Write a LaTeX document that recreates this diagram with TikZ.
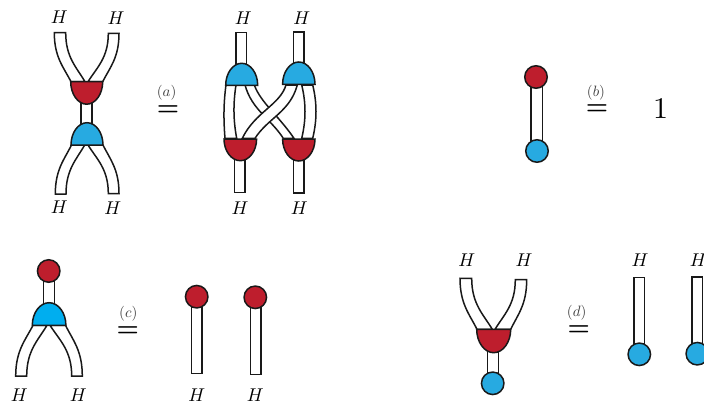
\documentclass[tikz,border=0pt]{standalone}
\usetikzlibrary{backgrounds}
\definecolor{capred}{HTML}{BE1E2D}
\definecolor{capblue}{HTML}{27AAE1}
\definecolor{capcyan}{HTML}{00AEEF}
\tikzset{
    leg/.style={draw=black!90,fill=white,line width=1.5pt},
    hlabel/.style={inner sep=0pt,scale=1.85},
    eqsign/.style={inner sep=0pt,scale=2.5},
    eqtag/.style={inner sep=0pt,scale=1.5,black!75},
    ball/.style={circle,draw=black!90,line width=1.5pt,minimum size=22.5pt,inner sep=0pt},
}
% curved leg: end x1, end x2, end y, join xa, join xb, join y
\newcommand{\curvedleg}[6]{
    \draw[leg] (#1,#3) .. controls (#1,{#3+0.5*(#6-#3)}) and ({#4-0.45*(#4-#1)},{#6-0.3*(#6-#3)}) .. (#4,#6)
        -- (#5,#6) .. controls ({#5-0.45*(#5-#2)},{#6-0.3*(#6-#3)}) and (#2,{#3+0.5*(#6-#3)}) .. (#2,#3) -- cycle;
}
% half disc: centre x, flat side y, half width, signed depth, colour
\newcommand{\halfdisc}[5]{
    \draw[leg,fill=#5] ({#1-#3},#2) .. controls ({#1-#3},{#2+0.55*#4}) and ({#1-0.55*#3},{#2+#4}) .. (#1,{#2+#4})
        .. controls ({#1+0.55*#3},{#2+#4}) and ({#1+#3},{#2+0.55*#4}) .. ({#1+#3},#2) -- cycle;
}
\begin{document}
\begin{tikzpicture}[x=1pt,y=-1pt]
    \useasboundingbox (0,0) rectangle (704,404);
    % Labels on the open legs
    \foreach \name/\xpos/\ypos in {hal/59.3/17.3,har/116/18.3,hbl/59.3/207.3,hbr/112.7/208.3,
        hcl/243.3/18.3,hcr/301.7/18.3,hdl/240/208.3,hdr/299.3/208.3,
        hel/19.3/395.5,her/78.3/395.5,hfl/196.7/395.5,hfr/255.3/395.5,
        hgl/466.7/260,hgr/524/260,hkl/640/260,hkr/698.3/260}
        \node[hlabel] (\name) at (\xpos,\ypos) {$H$};
    % Equal signs and their tags
    \foreach \name/\xpos/\ypos/\tagx/\tagy/\tagtext in {a/168/110.7/166.7/92.8/a,b/597/110/596/92.8/b,
        c/127.7/332/128.3/313.8/c,d/578.7/330.7/576.7/312.8/d} {
        \node[eqsign] (eq\name) at (\xpos,\ypos) {\textbf{=}};
        \node[eqtag] (tag\name) at (\tagx,\tagy) {$(\tagtext)$};
    }
    \node[inner sep=0pt,scale=3] (one) at (660.7,108.7) {1};
    % Left side of (a)
    \curvedleg{54.3}{65.7}{32.7}{71}{85}{81.7}
    \curvedleg{119}{108.3}{33.5}{102.7}{88}{81.7}
    \curvedleg{55.3}{66}{194}{71.5}{84.7}{145}
    \curvedleg{119}{108.3}{193.5}{103}{88}{145}
    \draw[leg] (81,100) rectangle (92,126);
    \halfdisc{86.7}{81.7}{16}{22.5}{capred}
    \halfdisc{87}{145}{16}{-22.3}{capblue}
    % Right side of (a)
    \draw[leg] (236,32.7) rectangle (246.3,70);
    \draw[leg] (293.7,32) rectangle (304,70);
    \draw[leg] (234.7,155) rectangle (245,192.7);
    \draw[leg] (293.7,155) rectangle (304,193);
    \draw[leg] (226,85) .. controls (223.5,103) and (223.5,120) .. (225,138.3) -- (236.7,138.3)
        .. controls (233.2,120) and (233.2,103) .. (236,85) -- cycle;
    \draw[leg] (312.7,85) .. controls (317.1,103) and (317.1,120) .. (312.7,138.3) -- (301.7,138.3)
        .. controls (306.1,120) and (306.1,103) .. (301.7,85) -- cycle;
    \draw[leg] (245,85) .. controls (252,110) and (270,118) .. (283.3,138.3) -- (294,138.3)
        .. controls (278,115) and (261,103) .. (254.3,85) -- cycle;
    \draw[leg] (286,85) .. controls (280,105) and (255,112) .. (242.3,138.3) -- (255,138.3)
        .. controls (268,118) and (290,112) .. (297.3,85) -- cycle;
    \halfdisc{241.7}{85.3}{16}{-22}{capblue}
    \halfdisc{298.8}{84.3}{16.2}{-22.3}{capblue}
    \halfdisc{240.3}{139}{16.3}{21.7}{capred}
    \halfdisc{298.8}{139}{16.2}{22}{capred}
    % Panel (b)
    \node[ball,fill=capred] (redb) at (536,77) {};
    \node[ball,fill=capblue] (blueb) at (537,151) {};
    \begin{scope}[on background layer]
        \draw[leg] ([xshift=-5.2pt]redb.center) rectangle ([xshift=5.3pt]blueb.center);
    \end{scope}
    % Panel (c)
    \curvedleg{15.7}{26.7}{376}{33}{47}{325.3}
    \curvedleg{82.3}{71.7}{376}{65.5}{50}{325.3}
    \node[ball,fill=capred] (redc) at (48.7,271) {};
    \coordinate (capc) at (49,302.7);
    \begin{scope}[on background layer]
        \draw[leg] ([xshift=-5.2pt]redc.center) rectangle ([xshift=5.5pt,yshift=-4pt]capc);
    \end{scope}
    \halfdisc{49.1}{325.3}{16.8}{-22.6}{capcyan}
    \node[ball,fill=capred] (redl) at (196.7,296.7) {};
    \node[ball,fill=capred] (redr) at (255.3,297.3) {};
    \coordinate (endl) at (202,373.7);
    \coordinate (endr) at (261,374.3);
    \begin{scope}[on background layer]
        \draw[leg] ([xshift=-5.4pt]redl.center) rectangle (endl);
        \draw[leg] ([xshift=-5pt]redr.center) rectangle (endr);
    \end{scope}
    % Panel (d)
    \curvedleg{460}{471.7}{278.3}{477}{492.3}{329.3}
    \curvedleg{526.7}{515.3}{279.7}{510.7}{495}{329.3}
    \node[ball,fill=capblue] (blued) at (492.7,383.3) {};
    \coordinate (capd) at (493,352.7);
    \begin{scope}[on background layer]
        \draw[leg] ([xshift=-5.3pt,yshift=4pt]capd) rectangle ([xshift=6pt]blued.center);
    \end{scope}
    \halfdisc{493.7}{329.3}{17}{23.4}{capred}
    \node[ball,fill=capblue] (bluel) at (639.3,354.3) {};
    \node[ball,fill=capblue] (bluer) at (697.3,353.7) {};
    \coordinate (topl) at (634,277.7);
    \coordinate (topr) at (692,277);
    \begin{scope}[on background layer]
        \draw[leg] (topl) rectangle ([xshift=5.4pt]bluel.center);
        \draw[leg] (topr) rectangle ([xshift=5.4pt]bluer.center);
    \end{scope}
\end{tikzpicture}
\end{document}
